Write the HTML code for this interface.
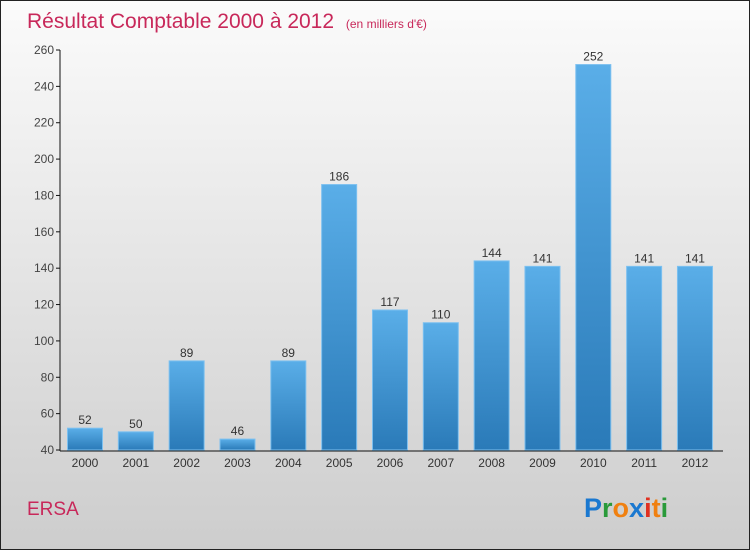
<!DOCTYPE html>
<html><head><meta charset="utf-8"><style>
body{margin:0}
#c{position:relative;width:748px;height:548px;border:1px solid #222;background:linear-gradient(#fbfbfb,#cdcdcd);font-family:"Liberation Sans",sans-serif;overflow:hidden}
</style></head><body>
<div id="c">
<svg width="748" height="548">
<defs><linearGradient id="g" x1="0" y1="0" x2="0" y2="1"><stop offset="0" stop-color="#5aaee8"/><stop offset="1" stop-color="#2a7ab8"/></linearGradient></defs>
<text x="26" y="27" font-size="21" fill="#c8285a">Résultat Comptable 2000 à 2012 <tspan font-size="12" dx="6">(en milliers d'€)</tspan></text>
<g id="axes"></g><g id="bars"></g>
<text x="26" y="514" font-size="19" fill="#c8285a">ERSA</text>
<text x="583" y="516" font-size="27" font-weight="bold"><tspan fill="#1a78d0">P</tspan><tspan fill="#2a9a3a">r</tspan><tspan fill="#f08010">o</tspan><tspan fill="#1a78d0">x</tspan><tspan fill="#e03020">i</tspan><tspan fill="#f08010">t</tspan><tspan fill="#2a9a3a">i</tspan></text>
</svg></div>
<script>
const years=["2000","2001","2002","2003","2004","2005","2006","2007","2008","2009","2010","2011","2012"];
const values=[52,50,89,46,89,186,117,110,144,141,252,141,141];
const ticks=[40,60,80,100,120,140,160,180,200,220,240,260];
const NS="http://www.w3.org/2000/svg";
const y=v=>449-(v-40)*400/220;
const x=i=>84+i*50.83;
function mk(t,a,p,txt){const e=document.createElementNS(NS,t);for(const k in a)e.setAttribute(k,a[k]);if(txt!=null)e.textContent=txt;p.appendChild(e);return e;}
const ax=document.getElementById('axes'),bs=document.getElementById('bars');
let l=mk('line',{x1:59,y1:49,x2:59,y2:450,stroke:'#111'},ax);


l=mk('line',{x1:59,y1:450,x2:722,y2:450,stroke:'#111'},ax);


ticks.forEach(t=>{
 mk('line',{x1:55,y1:y(t),x2:59,y2:y(t),stroke:'#111'},ax);
 const e=mk('text',{x:53,y:y(t)+4,'font-size':12,'text-anchor':'end',fill:'#444'},ax,t);
 
 
});
years.forEach((yr,i)=>{
 const v=values[i];
 const r=mk('rect',{x:x(i)-17.5,y:y(v),width:35,height:449-y(v),fill:'url(#g)',stroke:'#7cc0f0','stroke-width':1},bs);
 
 
 const t=mk('text',{x:x(i),y:y(v)-4,'font-size':12,'text-anchor':'middle',fill:'#333'},bs,v);
 
 
 const xl=mk('text',{x:x(i),y:466,'font-size':12,'text-anchor':'middle',fill:'#333'},bs,yr);
 
 
});
</script>
</body></html>
